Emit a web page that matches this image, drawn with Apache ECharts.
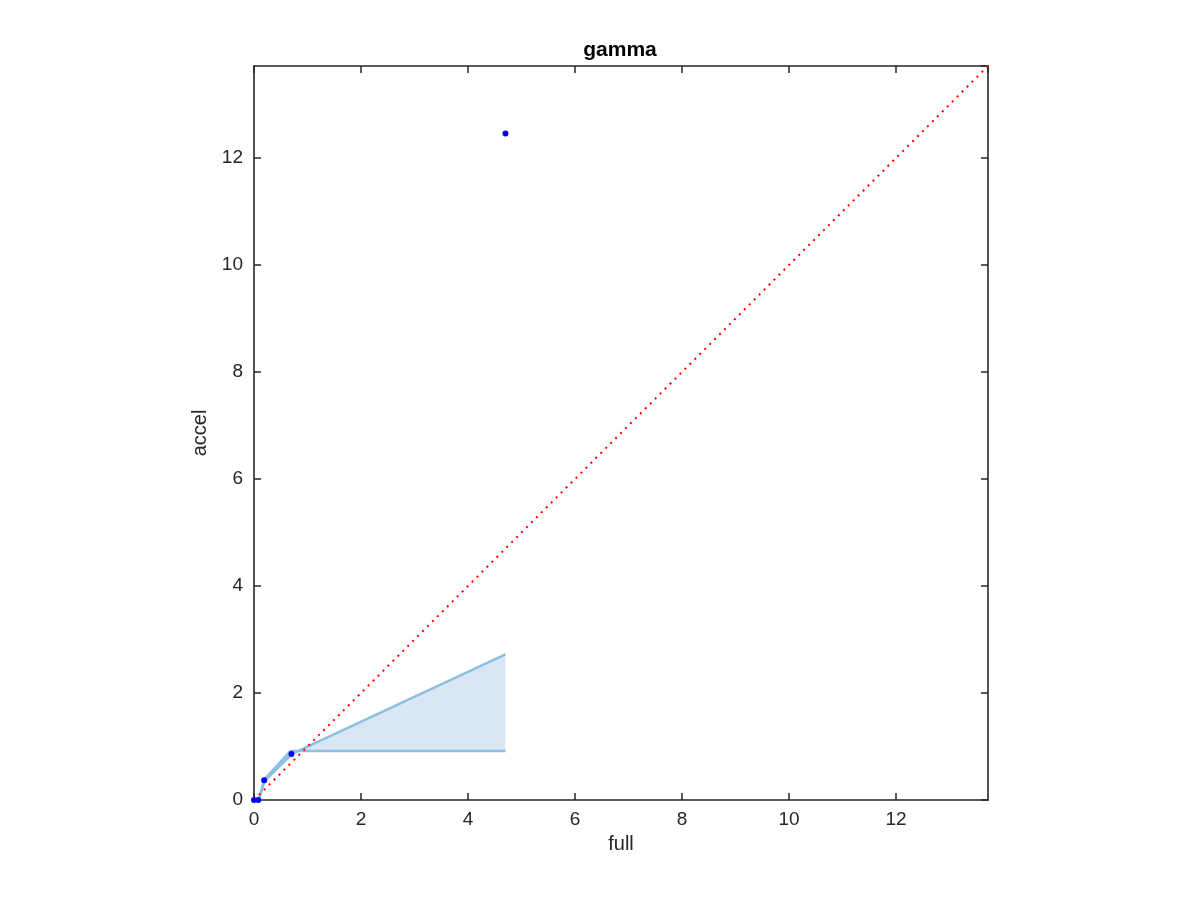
<!DOCTYPE html>
<html><head><meta charset="utf-8">
<script src="https://cdn.jsdelivr.net/npm/echarts@6/dist/echarts.min.js"></script>
<style>html,body{margin:0;padding:0;background:#fff}#c{width:1200px;height:900px}</style>
</head><body><div id="c"></div>
<script>
const titleText = 'gamma';
const xName = 'full';
const yName = 'accel';
const axisMax = 13.72;
const tickInterval = 2;
// blue sample points [full, accel]
const points = [[0, 0], [0.08, 0], [0.19, 0.37], [0.70, 0.86], [4.70, 12.46]];
// band bounds
const boundA = [[0, 0], [0.09, 0], [0.19, 0.38], [0.68, 0.915], [4.70, 0.915]];
const boundB = [[0, 0], [0.09, 0], [0.20, 0.36], [0.71, 0.86], [4.70, 2.72]];
const diag = [[0, 0], [axisMax, axisMax]];

const polygonPts = boundA.concat(boundB.slice().reverse());

const chart = echarts.init(document.getElementById('c'));
const axisCol = '#262626';
const font = 'Helvetica, "Liberation Sans", Arial, sans-serif';
function axisBase(extra) {
  return Object.assign({
    type: 'value', min: 0, max: axisMax, interval: tickInterval,
    axisLine: {show: true, onZero: false, lineStyle: {color: axisCol, width: 1.6}},
    axisTick: {inside: true, length: 7, lineStyle: {color: axisCol, width: 1.5}},
    splitLine: {show: false}
  }, extra);
}
chart.setOption({
  animation: false,
  title: {text: titleText, left: 615, top: 35, textAlign: 'center',
    textStyle: {fontFamily: font, fontSize: 21, fontWeight: 'bold', color: '#000'}},
  grid: {left: 254, right: 212, top: 66, bottom: 100, show: false},
  xAxis: [axisBase({name: xName, position: 'bottom',
    nameLocation: 'middle', nameGap: 34, nameTextStyle: {fontFamily: font, fontSize: 20, color: axisCol},
    axisLabel: {fontFamily: font, fontSize: 19, color: axisCol, margin: 10, showMaxLabel: false}}),
   axisBase({position: 'top', axisLabel: {show: false}})],
  yAxis: [axisBase({name: yName, position: 'left',
    nameLocation: 'middle', nameGap: 44, nameRotate: 90, nameTextStyle: {fontFamily: font, fontSize: 20, color: axisCol},
    axisLabel: {fontFamily: font, fontSize: 19, color: axisCol, margin: 11, showMaxLabel: false}}),
   axisBase({position: 'right', axisLabel: {show: false}})],
  series: [
    {type: 'custom', xAxisIndex: 0, yAxisIndex: 0, data: [0], silent: true, z: 1,
     renderItem: function (params, api) {
       const pts = polygonPts.map(p => api.coord(p));
       return {type: 'polygon', shape: {points: pts}, style: {fill: '#d8e7f3', stroke: null}};
     }},
    {type: 'line', data: boundA, symbol: 'none', z: 2,
     lineStyle: {color: '#8dbfe2', width: 2.5}},
    {type: 'line', data: boundB, symbol: 'none', z: 2,
     lineStyle: {color: '#8dbfe2', width: 2.5}},
    {type: 'line', data: diag, symbol: 'none', z: 3,
     lineStyle: {color: '#ff0000', width: 2, type: [2, 5]}},
    {type: 'scatter', data: points, symbol: 'circle', symbolSize: 6, z: 4,
     itemStyle: {color: '#0000ff', opacity: 1}}
  ]
});
</script></body></html>
